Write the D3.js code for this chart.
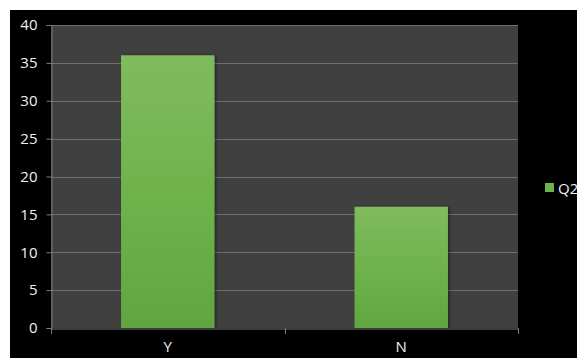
<!DOCTYPE html>
<html>
<head>
<meta charset="utf-8">
<script src="https://cdn.jsdelivr.net/npm/d3@7"></script>
<style>
  html, body { margin: 0; padding: 0; background: #ffffff; }
  svg { display: block; }
  text { font-family: "Open Sans", "DejaVu Sans", sans-serif; }
</style>
</head>
<body>
<svg id="chart" width="577" height="358"></svg>
<script>
// Responses to Q2
const categories = ["Y", "N"];
const seriesName = "Q2";
const values = [36, 16];
const yTicks = [0, 5, 10, 15, 20, 25, 30, 35, 40];

const W = 577, H = 358;
const frame = { left: 10, top: 10 };
const plot = { left: 51, top: 25, right: 518, bottom: 328 };

const svg = d3.select("#chart");

// black chart background
svg.append("rect")
  .attr("x", frame.left).attr("y", frame.top)
  .attr("width", W - frame.left).attr("height", H - frame.top)
  .attr("fill", "#000000");

const defs = svg.append("defs");
const grad = defs.append("linearGradient")
  .attr("id", "barGrad").attr("x1", 0).attr("y1", 0).attr("x2", 0).attr("y2", 1);
grad.append("stop").attr("offset", "0%").attr("stop-color", "#80bb5e");
grad.append("stop").attr("offset", "55%").attr("stop-color", "#6db24a");
grad.append("stop").attr("offset", "100%").attr("stop-color", "#62a541");

const shadow = defs.append("filter").attr("id", "barShadow")
  .attr("x", "-20%").attr("y", "-20%").attr("width", "140%").attr("height", "140%");
shadow.append("feDropShadow")
  .attr("dx", 1.5).attr("dy", 0).attr("stdDeviation", 1.5)
  .attr("flood-color", "#000").attr("flood-opacity", 0.45);

const x = d3.scaleBand()
  .domain(categories)
  .range([plot.left, plot.right])
  .paddingInner(0).paddingOuter(0);

const y = d3.scaleLinear()
  .domain([0, 40])
  .range([plot.bottom, plot.top]);

// plot area
svg.append("rect")
  .attr("x", plot.left).attr("y", plot.top)
  .attr("width", plot.right - plot.left).attr("height", plot.bottom - plot.top)
  .attr("fill", "#404040");

// horizontal gridlines
svg.append("g")
  .selectAll("line")
  .data(yTicks.filter(d => d > 0))
  .join("line")
  .attr("x1", plot.left).attr("x2", plot.right)
  .attr("y1", d => Math.round(y(d)) + 0.5).attr("y2", d => Math.round(y(d)) + 0.5)
  .attr("stroke", "#6e6e6e").attr("stroke-width", 1);

// bars
const barFrac = 0.4;
svg.append("g")
  .selectAll("rect")
  .data(values.map((v, i) => ({ cat: categories[i], v })))
  .join("rect")
  .attr("x", d => x(d.cat) + x.bandwidth() * (1 - barFrac) / 2)
  .attr("width", x.bandwidth() * barFrac)
  .attr("y", d => y(d.v))
  .attr("height", d => y(0) - y(d.v))
  .attr("fill", "url(#barGrad)")
  .attr("filter", "url(#barShadow)");

// y axis
const yAxis = svg.append("g")
  .attr("transform", `translate(${plot.left + 0.5},0)`)
  .call(d3.axisLeft(y).tickValues(yTicks).tickSize(5).tickPadding(9));
yAxis.select(".domain").attr("stroke", "#7a7a7a");
yAxis.selectAll(".tick line").attr("stroke", "#7a7a7a");
yAxis.selectAll(".tick text")
  .attr("fill", "#f0f0f0").attr("font-size", 15)
  .attr("font-family", "'Open Sans', 'DejaVu Sans', sans-serif");

// x axis
const xAxis = svg.append("g")
  .attr("transform", `translate(0,${plot.bottom + 0.5})`)
  .call(d3.axisBottom(x).tickSize(0).tickPadding(13));
xAxis.select(".domain").attr("stroke", "#7a7a7a");
xAxis.selectAll(".tick text")
  .attr("fill", "#f0f0f0").attr("font-size", 15)
  .attr("font-family", "'Open Sans', 'DejaVu Sans', sans-serif");

// category boundary ticks
const bounds = [plot.left, ...categories.slice(1).map(c => x(c)), plot.right];
svg.append("g")
  .selectAll("line")
  .data(bounds)
  .join("line")
  .attr("x1", d => Math.round(d) + 0.5).attr("x2", d => Math.round(d) + 0.5)
  .attr("y1", plot.bottom).attr("y2", plot.bottom + 6)
  .attr("stroke", "#7a7a7a");

// legend
const legend = svg.append("g").attr("transform", "translate(545,183)");
legend.append("rect")
  .attr("width", 9).attr("height", 9)
  .attr("fill", "#6db24a");
legend.append("text")
  .attr("x", 13).attr("y", 4.5)
  .attr("dominant-baseline", "central")
  .attr("fill", "#f0f0f0").attr("font-size", 15)
  .text(seriesName);
</script>
</body>
</html>
